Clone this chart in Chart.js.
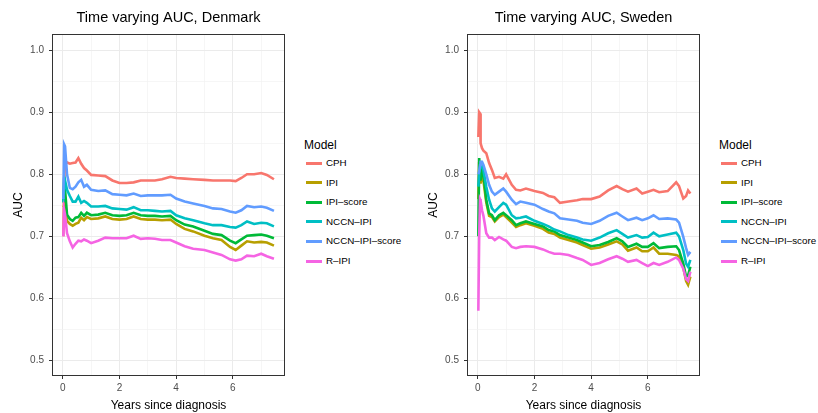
<!DOCTYPE html>
<html>
<head>
<meta charset="utf-8">
<script src="https://cdn.jsdelivr.net/npm/chart.js@4/dist/chart.umd.min.js"></script>
<style>
  html, body { margin: 0; padding: 0; background: #fff; overflow: hidden; }
  body { width: 818px; height: 413px; position: relative; font-family: 'Liberation Sans', Arial, Helvetica, sans-serif; }
  .panel { position: absolute; top: 0; width: 410px; height: 413px; }
  .panel canvas { position: absolute; left: 0; top: 0; }
  .leyenda { position: absolute; left: 304px; top: 138px; white-space: nowrap; }
  .leyenda .titulo { font-size: 12px; line-height: 14px; color: #000; }
  .leyenda .item { position: absolute; left: 0; height: 12px; }
  .leyenda .clave { position: absolute; left: 2px; top: 4.5px; width: 16px; height: 3px; }
  .leyenda .texto { position: absolute; left: 22px; top: 0; font-size: 9.8px; line-height: 12px; color: #000; }
</style>
</head>
<body>
<div class="panel" id="panelDK" style="left:0px">
  <canvas id="graficoDK" width="290" height="413"></canvas>
  <div class="leyenda" id="leyendaDK"></div>
</div>
<div class="panel" id="panelSE" style="left:415px">
  <canvas id="graficoSE" width="290" height="413"></canvas>
  <div class="leyenda" id="leyendaSE"></div>
</div>
<script>
// Modelos y colores (paleta por defecto de ggplot)
const modelos = ['CPH', 'IPI', 'IPI–score', 'NCCN–IPI', 'NCCN–IPI–score', 'R–IPI'];
const colores = ['#F8766D', '#B79F00', '#00BA38', '#00BFC4', '#619CFF', '#F564E3'];

// Ticks de los ejes
const ticksY = [0.5, 0.6, 0.7, 0.8, 0.9, 1.0];
const ticksYMenores = [0.55, 0.65, 0.75, 0.85, 0.95];
const ticksX = [0, 2, 4, 6];
const ticksXMenores = [1, 3, 5, 7];

// Dinamarca
const dkAnios = [0.02, 0.05, 0.08, 0.15, 0.25, 0.35, 0.45, 0.55, 0.65, 0.75, 0.85,
  1.0, 1.25, 1.5, 1.75, 2.0, 2.25, 2.5, 2.75, 3.0, 3.25, 3.5, 3.8,
  4.0, 4.3, 4.6, 5.0, 5.3, 5.6, 5.9, 6.1, 6.3, 6.5, 6.75, 7.0, 7.2, 7.45];
const dkCPH = [0.70, 0.79, 0.818, 0.819, 0.817, 0.818, 0.819, 0.826, 0.817, 0.810, 0.806,
  0.799, 0.798, 0.797, 0.790, 0.786, 0.786, 0.787, 0.790, 0.790, 0.790, 0.792, 0.796,
  0.794, 0.793, 0.792, 0.791, 0.790, 0.790, 0.790, 0.789, 0.794, 0.800, 0.800, 0.802, 0.799, 0.792];
const dkIPI = [0.75, 0.748, 0.745, 0.725, 0.720, 0.717, 0.720, 0.722, 0.730, 0.726, 0.731,
  0.728, 0.729, 0.732, 0.728, 0.727, 0.728, 0.732, 0.728, 0.727, 0.727, 0.726, 0.727,
  0.720, 0.712, 0.708, 0.701, 0.697, 0.694, 0.683, 0.678, 0.685, 0.692, 0.690, 0.691, 0.690, 0.685];
const dkIPIscore = [0.755, 0.795, 0.775, 0.735, 0.728, 0.725, 0.730, 0.731, 0.738, 0.733, 0.738,
  0.734, 0.735, 0.738, 0.734, 0.733, 0.734, 0.738, 0.734, 0.733, 0.733, 0.732, 0.733,
  0.726, 0.719, 0.716, 0.709, 0.704, 0.702, 0.693, 0.689, 0.695, 0.701, 0.702, 0.703, 0.701, 0.697];
const dkNCCN = [0.755, 0.78, 0.79, 0.775, 0.765, 0.756, 0.756, 0.764, 0.754, 0.757, 0.754,
  0.748, 0.748, 0.749, 0.745, 0.744, 0.743, 0.747, 0.742, 0.742, 0.741, 0.740, 0.741,
  0.734, 0.729, 0.726, 0.721, 0.718, 0.718, 0.715, 0.714, 0.718, 0.724, 0.720, 0.722, 0.721, 0.716];
const dkNCCNscore = [0.76, 0.848, 0.845, 0.80, 0.778, 0.776, 0.780, 0.787, 0.791, 0.780, 0.783,
  0.775, 0.773, 0.774, 0.768, 0.767, 0.766, 0.769, 0.765, 0.766, 0.766, 0.766, 0.767,
  0.761, 0.756, 0.753, 0.749, 0.745, 0.744, 0.740, 0.738, 0.742, 0.749, 0.747, 0.748, 0.746, 0.741];
const dkRIPI = [0.70, 0.742, 0.735, 0.705, 0.692, 0.682, 0.688, 0.693, 0.692, 0.695, 0.693,
  0.689, 0.693, 0.698, 0.697, 0.697, 0.697, 0.701, 0.696, 0.697, 0.696, 0.694, 0.694,
  0.690, 0.684, 0.680, 0.678, 0.674, 0.670, 0.663, 0.661, 0.663, 0.669, 0.668, 0.672, 0.668, 0.664];

// Suecia
const seAnios = [0.02, 0.05, 0.08, 0.1, 0.15, 0.2, 0.3, 0.4, 0.5, 0.6, 0.75, 0.9,
  1.0, 1.2, 1.35, 1.5, 1.7, 2.0, 2.3, 2.5, 2.7, 2.9, 3.2, 3.5, 3.7,
  4.0, 4.3, 4.6, 4.9, 5.1, 5.3, 5.6, 5.8, 6.0, 6.2, 6.4, 6.7,
  7.0, 7.1, 7.25, 7.35, 7.42, 7.5];
const seCPH = [0.86, 0.90, 0.898, 0.85, 0.842, 0.838, 0.834, 0.818, 0.807, 0.794, 0.796, 0.793,
  0.800, 0.783, 0.775, 0.774, 0.777, 0.773, 0.770, 0.765, 0.763, 0.754, 0.756, 0.758, 0.760,
  0.760, 0.764, 0.774, 0.781, 0.776, 0.772, 0.777, 0.769, 0.772, 0.775, 0.771, 0.773,
  0.787, 0.781, 0.761, 0.765, 0.774, 0.769];
const seIPI = [0.76, 0.82, 0.795, 0.785, 0.80, 0.79, 0.755, 0.733, 0.731, 0.724, 0.731, 0.735,
  0.731, 0.722, 0.715, 0.718, 0.721, 0.717, 0.712, 0.706, 0.704, 0.698, 0.694, 0.690, 0.686,
  0.680, 0.682, 0.687, 0.692, 0.687, 0.677, 0.682, 0.676, 0.676, 0.682, 0.672, 0.672,
  0.670, 0.668, 0.650, 0.628, 0.622, 0.635];
const seIPIscore = [0.70, 0.826, 0.80, 0.79, 0.81, 0.80, 0.759, 0.737, 0.734, 0.726, 0.734, 0.738,
  0.734, 0.726, 0.718, 0.721, 0.724, 0.720, 0.716, 0.710, 0.708, 0.702, 0.698, 0.694, 0.690,
  0.684, 0.686, 0.691, 0.697, 0.692, 0.683, 0.688, 0.683, 0.683, 0.689, 0.681, 0.683,
  0.684, 0.678, 0.656, 0.635, 0.637, 0.651];
const seNCCN = [0.78, 0.80, 0.812, 0.815, 0.812, 0.807, 0.780, 0.759, 0.745, 0.740, 0.747, 0.754,
  0.751, 0.734, 0.729, 0.730, 0.732, 0.725, 0.720, 0.716, 0.711, 0.708, 0.702, 0.698, 0.695,
  0.693, 0.698, 0.705, 0.710, 0.704, 0.698, 0.702, 0.698, 0.699, 0.706, 0.700, 0.703,
  0.706, 0.700, 0.678, 0.656, 0.651, 0.662];
const seNCCNscore = [0.80, 0.805, 0.815, 0.82, 0.82, 0.815, 0.80, 0.783, 0.772, 0.767, 0.772, 0.777,
  0.772, 0.759, 0.752, 0.756, 0.754, 0.751, 0.744, 0.740, 0.737, 0.729, 0.727, 0.725, 0.722,
  0.720, 0.725, 0.733, 0.738, 0.732, 0.726, 0.730, 0.726, 0.729, 0.734, 0.728, 0.729,
  0.727, 0.722, 0.699, 0.681, 0.670, 0.675];
const seRIPI = [0.58, 0.70, 0.76, 0.758, 0.742, 0.733, 0.705, 0.698, 0.698, 0.694, 0.699, 0.695,
  0.693, 0.683, 0.681, 0.683, 0.684, 0.683, 0.679, 0.675, 0.672, 0.672, 0.670, 0.665, 0.662,
  0.654, 0.657, 0.663, 0.668, 0.664, 0.659, 0.662, 0.657, 0.652, 0.657, 0.654, 0.659,
  0.666, 0.662, 0.648, 0.631, 0.628, 0.643];

const fuente = "'Liberation Sans', Arial, Helvetica, sans-serif";

// Borde del panel (como theme_bw)
const bordePanel = {
  id: 'bordePanel',
  afterDatasetsDraw(chart) {
    const a = chart.chartArea;
    const ctx = chart.ctx;
    ctx.save();
    ctx.strokeStyle = '#333333';
    ctx.lineWidth = 1;
    ctx.strokeRect(Math.round(a.left) + 0.5, Math.round(a.top) + 0.5,
      Math.round(a.right - a.left) - 1, Math.round(a.bottom - a.top) - 1);
    ctx.restore();
  }
};

function esMayor(v, lista) {
  return lista.some(t => Math.abs(t - v) < 1e-6);
}

function crearGrafico(idCanvas, titulo, anios, series) {
  const ctx = document.getElementById(idCanvas).getContext('2d');
  const datasets = series.map((valores, i) => ({
    label: modelos[i],
    data: valores.map((v, j) => ({ x: anios[j], y: v })),
    borderColor: colores[i],
    borderWidth: 2.6,
    pointRadius: 0,
    tension: 0,
    fill: false,
    order: series.length - i // R-IPI encima, como en ggplot
  }));

  return new Chart(ctx, {
    type: 'line',
    data: { datasets: datasets },
    plugins: [bordePanel],
    options: {
      responsive: false,
      animation: false,
      layout: { padding: { left: 0, right: 5, top: 0, bottom: 0 } },
      plugins: {
        legend: { display: false },
        tooltip: { enabled: false },
        title: {
          display: true,
          text: titulo,
          fullSize: false,
          color: '#000',
          font: { family: fuente, size: 14.5, weight: 'normal', lineHeight: 1.2 },
          padding: { top: 9.5, bottom: 7.1 }
        }
      },
      scales: {
        x: {
          type: 'linear',
          min: -0.38,
          max: 7.84,
          afterBuildTicks: s => { s.ticks = ticksX.concat(ticksXMenores).sort((a, b) => a - b).map(v => ({ value: v })); },
          afterFit: s => { s.height = 37; },
          ticks: {
            autoSkip: false,
            maxRotation: 0,
            padding: 3,
            color: '#4d4d4d',
            font: { family: fuente, size: 10 },
            callback: v => esMayor(v, ticksX) ? String(v) : ''
          },
          grid: {
            color: c => esMayor(c.tick.value, ticksX) ? '#ebebeb' : '#f2f2f2',
            lineWidth: c => esMayor(c.tick.value, ticksX) ? 1 : 0.7,
            tickColor: c => esMayor(c.tick.value, ticksX) ? '#333333' : 'rgba(0,0,0,0)',
            tickLength: 3,
            tickWidth: 1
          },
          border: { display: false },
          title: {
            display: true,
            text: 'Years since diagnosis',
            color: '#000',
            font: { family: fuente, size: 12 },
            padding: { top: 0, bottom: 0 }
          }
        },
        y: {
          type: 'linear',
          min: 0.475,
          max: 1.026,
          afterBuildTicks: s => { s.ticks = ticksY.concat(ticksYMenores).sort((a, b) => a - b).map(v => ({ value: v })); },
          afterFit: s => { s.width = 52; },
          ticks: {
            autoSkip: false,
            padding: 5,
            color: '#4d4d4d',
            font: { family: fuente, size: 10 },
            callback: v => esMayor(v, ticksY) ? v.toFixed(1) : ''
          },
          grid: {
            color: c => esMayor(c.tick.value, ticksY) ? '#ebebeb' : '#f2f2f2',
            lineWidth: c => esMayor(c.tick.value, ticksY) ? 1 : 0.7,
            tickColor: c => esMayor(c.tick.value, ticksY) ? '#333333' : 'rgba(0,0,0,0)',
            tickLength: 3,
            tickWidth: 1
          },
          border: { display: false },
          title: {
            display: true,
            text: 'AUC',
            color: '#000',
            font: { family: fuente, size: 12 },
            padding: { top: 11, bottom: 0 }
          }
        }
      }
    }
  });
}

function crearLeyenda(idLeyenda) {
  const cont = document.getElementById(idLeyenda);
  const titulo = document.createElement('div');
  titulo.className = 'titulo';
  titulo.textContent = 'Model';
  cont.appendChild(titulo);
  modelos.forEach((m, i) => {
    const item = document.createElement('div');
    item.className = 'item';
    item.style.top = (19 + i * 19.6) + 'px';
    const clave = document.createElement('div');
    clave.className = 'clave';
    clave.style.background = colores[i];
    const texto = document.createElement('div');
    texto.className = 'texto';
    texto.textContent = m;
    item.appendChild(clave);
    item.appendChild(texto);
    cont.appendChild(item);
  });
}

crearGrafico('graficoDK', 'Time varying AUC, Denmark', dkAnios,
  [dkCPH, dkIPI, dkIPIscore, dkNCCN, dkNCCNscore, dkRIPI]);
crearGrafico('graficoSE', 'Time varying AUC, Sweden', seAnios,
  [seCPH, seIPI, seIPIscore, seNCCN, seNCCNscore, seRIPI]);
crearLeyenda('leyendaDK');
crearLeyenda('leyendaSE');
</script>
</body>
</html>
